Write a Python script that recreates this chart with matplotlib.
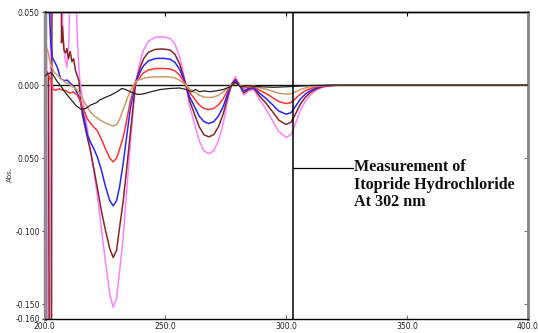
import matplotlib
matplotlib.use('Agg')
import matplotlib.pyplot as plt
import numpy as np

# ---------------- data ----------------
wl_main = [215.6, 217.7, 219.0, 220.5, 221.8, 223.5, 225.3, 227.0, 228.4, 229.8,
           231.0, 232.5, 234.0, 235.5, 237.7, 239.0, 240.0, 241.0, 243.0, 246.0,
           249.0, 252.0, 254.0, 256.0, 257.5, 258.5, 260.0, 262.0, 264.0, 266.0,
           268.0, 270.0, 272.0, 274.0, 276.0, 277.5, 279.0, 280.5, 282.5, 284.5,
           286.7, 289.0, 291.5, 294.0, 297.0, 300.0, 302.0, 303.5, 306.0, 308.0,
           310.0, 312.5, 315.0, 318.0, 322.0, 330.0, 350.0, 400.0]

pink_left_wl = [200.0, 200.8, 201.4, 202.2, 202.6, 206.5, 207.5, 208.3, 209.2, 210.0,
                210.8, 212.4, 213.0, 213.4, 213.9, 214.5, 215.0]
pink_left = [0.030, 0.020, -0.25, -0.25, 0.25, 0.25, 0.035, 0.020, 0.012, 0.028,
             0.08, 0.08, 0.06, 0.040, 0.020, 0.005, -0.002]
pink_main = [-0.008, -0.030, -0.045, -0.060, -0.075, -0.098, -0.122, -0.143, -0.152, -0.146,
             -0.128, -0.105, -0.072, -0.040, 0.002, 0.012, 0.019, 0.024, 0.030, 0.0328,
             0.0331, 0.032, 0.028, 0.019, 0.008, 0.0, -0.014, -0.026, -0.038, -0.045,
             -0.0468, -0.045, -0.038, -0.026, -0.009, 0.001, 0.0057, 0.001, -0.0068, -0.004,
             -0.003, -0.010, -0.016, -0.023, -0.032, -0.0358, -0.034, -0.028, -0.017, -0.011,
             -0.0068, -0.0035, -0.0015, -0.0005, 0.0, 0.0, 0.0, 0.0]

brown_left_wl = [200.0, 201.0, 201.6, 202.0, 202.8, 203.2, 206.6, 207.0, 207.4, 208.0,
                 208.7, 209.2, 209.9, 210.6, 211.3, 212.0, 212.8, 213.6, 214.2, 215.0]
brown_left = [0.008, 0.009, 0.007, -0.25, -0.25, 0.25, 0.25, 0.029, 0.040, 0.024,
              0.022, 0.025, 0.018, 0.023, 0.016, 0.018, 0.010, 0.006, 0.003, -0.012]
brown_main = [-0.020, -0.036, -0.045, -0.058, -0.070, -0.086, -0.100, -0.112, -0.118, -0.113,
              -0.098, -0.080, -0.057, -0.033, 0.002, 0.009, 0.014, 0.018, 0.0225, 0.0245,
              0.0247, 0.024, 0.021, 0.014, 0.006, 0.0, -0.0105, -0.0195, -0.0285, -0.034,
              -0.0354, -0.034, -0.0285, -0.0195, -0.0068, 0.0008, 0.0039, 0.0005, -0.0053, -0.003,
              -0.0023, -0.0075, -0.012, -0.0173, -0.024, -0.0269, -0.0255, -0.021, -0.0128, -0.0083,
              -0.0051, -0.0026, -0.0011, -0.0004, 0.0, 0.0, 0.0, 0.0]

blue_left_wl = [200.0, 201.5, 202.0, 202.6, 203.2, 205.2, 206.6, 208.0, 209.4, 210.8, 212.2, 214.2]
blue_left = [0.08, 0.08, 0.05, 0.028, 0.019, 0.0125, 0.0046, 0.003, 0.0034, 0.001, -0.001, -0.008]
blue_main = [-0.016, -0.034, -0.039, -0.044, -0.049, -0.058, -0.070, -0.079, -0.0826, -0.079,
             -0.070, -0.054, -0.035, -0.016, 0.002, 0.0067, 0.0105, 0.0133, 0.0166, 0.0182,
             0.0183, 0.0177, 0.0155, 0.0105, 0.0044, 0.0, -0.0078, -0.0145, -0.0212, -0.025,
             -0.0263, -0.025, -0.0212, -0.0145, -0.005, 0.0006, 0.003, 0.0004, -0.004, -0.0022,
             -0.0017, -0.0056, -0.0089, -0.0128, -0.0178, -0.0199, -0.0189, -0.0155, -0.0094, -0.0061,
             -0.0038, -0.0019, -0.0008, -0.0003, 0.0, 0.0, 0.0, 0.0]

red_left_wl = [200.0, 201.5, 202.6, 203.5, 204.5, 206.0, 207.5, 209.0, 210.5, 211.8, 213.5, 214.6]
red_left = [0.0075, 0.0070, 0.0034, -0.003, -0.0035, -0.0025, -0.0035, -0.004, -0.0055, -0.0046, -0.0068, -0.010]
red_main = [-0.015, -0.023, -0.026, -0.029, -0.031, -0.037, -0.044, -0.050, -0.0525, -0.050,
            -0.044, -0.036, -0.024, -0.011, 0.002, 0.0042, 0.0066, 0.0084, 0.0104, 0.0113,
            0.0114, 0.011, 0.0097, 0.0066, 0.0028, 0.0, -0.0049, -0.0092, -0.0135, -0.016,
            -0.0167, -0.016, -0.0135, -0.0092, -0.0032, 0.0004, 0.002, 0.0002, -0.002, -0.0014,
            -0.0011, -0.0035, -0.0056, -0.0081, -0.0113, -0.0126, -0.012, -0.0098, -0.006, -0.0038,
            -0.0024, -0.0012, -0.0005, -0.0002, 0.0, 0.0, 0.0, 0.0]

tan_left_wl = [200.0, 201.5, 202.2, 203.9, 206.6, 208.5, 210.7, 212.0, 213.5, 214.2]
tan_left = [0.030, 0.022, 0.016, 0.009, 0.0046, 0.002, 0.0, -0.0015, -0.0034, -0.005]
tan_main = [-0.009, -0.015, -0.0185, -0.021, -0.0225, -0.0245, -0.026, -0.0272, -0.028, -0.027,
            -0.0235, -0.017, -0.010, -0.004, 0.0025, 0.0035, 0.004, 0.0046, 0.0053, 0.0056,
            0.0057, 0.0055, 0.0048, 0.0033, 0.0014, 0.0, -0.0025, -0.0047, -0.0069, -0.0082,
            -0.0085, -0.0082, -0.0069, -0.0047, -0.0016, 0.0002, 0.001, 0.0001, -0.001, -0.0008,
            -0.0006, -0.0018, -0.0028, -0.004, -0.0056, -0.0062, -0.006, -0.0049, -0.003, -0.0019,
            -0.0012, -0.0006, -0.0003, -0.0001, 0.0, 0.0, 0.0, 0.0]

black_wl = [200.0, 201.0, 202.5, 203.5, 205.0, 207.3, 209.0, 211.0, 213.0, 215.0,
            217.0, 219.0, 221.5, 223.0, 225.0, 227.5, 230.0, 232.0, 233.5, 235.5,
            238.5, 241.0, 244.0, 248.0, 252.0, 256.0, 258.5, 261.0, 262.5, 264.0,
            266.0, 268.5, 271.0, 274.0, 277.0, 279.0, 281.0, 284.0, 288.0, 295.0,
            302.0, 310.0, 320.0, 400.0]
black_abs = [0.006, 0.0075, 0.0085, 0.007, 0.003, -0.002, -0.006, -0.010, -0.014, -0.0165,
             -0.016, -0.0137, -0.012, -0.010, -0.0085, -0.0068, -0.0045, -0.0023, -0.003, -0.0046,
             -0.0064, -0.006, -0.0046, -0.003, -0.0023, -0.002, -0.003, -0.0045, -0.003, -0.0045,
             -0.004, -0.0045, -0.004, -0.003, -0.001, 0.002, -0.001, -0.0005, -0.001, -0.0015,
             -0.001, -0.0003, 0.0, 0.0]

x_ticks = [200.0, 250.0, 300.0, 350.0, 400.0]
x_tick_labels = ['200.0', '250.0', '300.0', '350.0', '400.0']
y_ticks = [0.050, 0.000, -0.050, -0.100, -0.150, -0.160]
y_tick_labels = ['0.050', '0.000', '0.050', '-0.100', '-0.150', '-0.160']
measure_wl = 303.0
annotation = 'Measurement of\nItopride Hydrochloride\nAt 302 nm'

# ---------------- figure ----------------
fig = plt.figure(figsize=(5.38, 3.33), dpi=100)
ax = fig.add_axes([44.6 / 538, 14 / 333, 483 / 538, 307 / 333])
ax.set_xlim(200, 400)
ax.set_ylim(-0.160, 0.050)

ax.axhline(0, color='#111111', lw=1.0, zorder=1)

series = [
    (pink_left_wl, pink_left, pink_main, '#ff80ff'),
    (brown_left_wl, brown_left, brown_main, '#8b2525'),
    (blue_left_wl, blue_left, blue_main, '#2626ff'),
    (red_left_wl, red_left, red_main, '#ff3333'),
    (tan_left_wl, tan_left, tan_main, '#d09a68'),
]
for lwl, lv, mv, c in series:
    ax.plot(np.concatenate([lwl, wl_main]), np.concatenate([lv, mv]),
            color=c, lw=1.1, zorder=2)
ax.plot(black_wl, black_abs, color='#222222', lw=0.9, zorder=3)

# measurement marker
ax.axvline(measure_wl, color='black', lw=1.1, zorder=4)
ax.plot([measure_wl, 327.5], [-0.0565, -0.0565], color='black', lw=0.9, zorder=4)
ax.text(328.0, -0.0508, annotation, family='Liberation Serif', fontweight='bold',
        fontsize=11.6, va='top', ha='left', linespacing=1.12, color='#111111')

# axes styling
for s in ['left', 'right']:
    ax.spines[s].set_color('#8c8c8c')
ax.spines['left'].set_linewidth(2.5)
ax.spines['right'].set_linewidth(2.0)
ax.spines['top'].set_color('black')
ax.spines['bottom'].set_color('black')
ax.spines['top'].set_linewidth(1.0)
ax.spines['bottom'].set_linewidth(1.0)

ax.set_xticks(x_ticks)
ax.set_xticklabels(x_tick_labels)
ax.set_yticks(y_ticks)
ax.set_yticklabels(y_tick_labels)
ax.tick_params(axis='x', direction='in', length=3, width=0.8, color='#777777',
               labelsize=5.5, pad=2, labelcolor='#222222')
ax.tick_params(axis='y', direction='out', length=2.5, width=0.8, color='#333333',
               labelsize=5.5, pad=1, labelcolor='#222222')

sec_top = ax.secondary_xaxis('top')
sec_top.set_xticks([250.0, 300.0, 350.0])
sec_top.tick_params(direction='in', length=3, width=0.8, labeltop=False)
sec_top.spines['top'].set_linewidth(1.0)

sec_right = ax.secondary_yaxis('right')
sec_right.set_yticks([-0.050, -0.100, -0.150])
sec_right.tick_params(direction='in', length=3, width=0.8, labelright=False, color='#777777')
sec_right.spines['right'].set_color('#8c8c8c')
sec_right.spines['right'].set_linewidth(2.0)

fig.text(10 / 538, 1 - 175 / 333, 'Abs.', rotation=90, fontsize=5,
         ha='center', va='center', color='#333333')

fig.savefig('out.png', dpi=100)
